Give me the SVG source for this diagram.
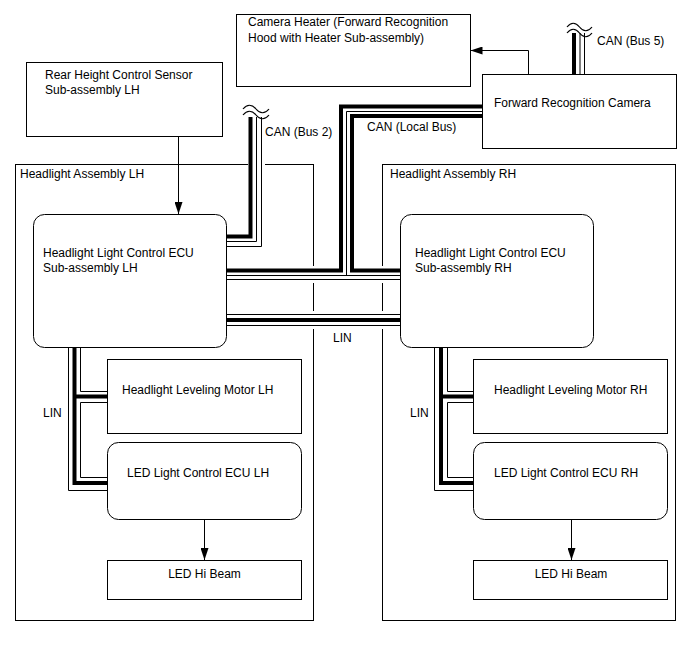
<svg xmlns="http://www.w3.org/2000/svg" width="688" height="658" viewBox="0 0 688 658">
<defs>
<marker id="arr" markerUnits="userSpaceOnUse" markerWidth="13" markerHeight="8" refX="12" refY="4" orient="auto">
<path d="M0,0 L12,4 L0,8 z" fill="#000"/>
</marker>
<style>
text{font-family:"Liberation Sans",Arial,sans-serif;font-size:12px;fill:#000}
.box{fill:#fff;stroke:#000;stroke-width:1}
.frame{fill:none;stroke:#000;stroke-width:1}
.halo{fill:none;stroke:#fff;stroke-width:17;stroke-linejoin:miter}
.thin{fill:none;stroke:#000;stroke-width:1;stroke-linejoin:miter}
.thick{fill:none;stroke:#000;stroke-width:4;stroke-linejoin:miter}
.arrow{fill:none;stroke:#000;stroke-width:1;marker-end:url(#arr)}
.wave{fill:none;stroke:#000;stroke-width:1.2}
</style>
</defs>
<rect width="688" height="658" fill="#fff"/>

<g id="headlight-assembly-lh">
<rect class="frame" x="15.5" y="164.5" width="298" height="456"/>
<text x="20" y="178">Headlight Assembly LH</text>
</g>
<g id="headlight-assembly-rh">
<rect class="frame" x="382.5" y="164.5" width="293" height="456"/>
<text x="390" y="178">Headlight Assembly RH</text>
</g>

<g id="connectors">
<!-- halos -->
<path class="halo" d="M226,241.5 H256.5 V117"/>
<path class="halo" d="M226,274.5 H346.5 V111 H482 M346.5,274.5 H400"/>
<path class="halo" style="stroke-width:18" d="M226,320 H400"/>
<path class="halo" d="M579.5,33 V74"/>
<!-- CAN Bus 2 -->
<path class="thick" d="M226,236.5 H250.5 V117"/>
<path class="thin" d="M226,241.5 H256.5 V117"/>
<path class="thin" d="M226,246.5 H261.5 V117"/>
<path class="wave" d="M243,109 c4,-5 9,-5 13,0 s9,5 13,0"/>
<path class="wave" d="M243,115 c4,-5 9,-5 13,0 s9,5 13,0"/>
<!-- CAN Bus 5 -->
<path class="thick" d="M574,33 V74"/>
<path class="thin" d="M580,33 V74"/>
<path class="thin" d="M584.5,33 V74"/>
<path class="wave" d="M567,27 c4,-5 8.5,-5 12.5,0 s8.5,5 12.5,0"/>
<path class="wave" d="M567,33 c4,-5 8.5,-5 12.5,0 s8.5,5 12.5,0"/>
<!-- CAN Local Bus -->
<path class="thick" d="M226,270.5 H341 V106.5 H482"/>
<path class="thick" d="M400,270.5 H352 V116 H482"/>
<path class="thin" d="M226,275.5 H400 M346.5,275.5 V111.5 H482"/>
<path class="thin" d="M226,279.5 H400"/>
<!-- LIN between ECUs -->
<path class="thin" d="M226,314.5 H400 M226,325.5 H400"/>
<path class="thick" d="M226,320 H400"/>
<!-- LIN left -->
<path class="thin" d="M68.5,347 V490.5 H107"/>
<path class="thick" d="M74.5,347 V483 H107 M74.5,396.5 H107"/>
<path class="thin" d="M80.5,347 V391.5 H107 M107,402.5 H80.5 V477.5 H107"/>
<!-- LIN right -->
<path class="thin" d="M434.5,347 V490.5 H473"/>
<path class="thick" d="M441,347 V483 H473 M441,396.5 H473"/>
<path class="thin" d="M447.5,347 V391.5 H473 M473,402.5 H447.5 V477.5 H473"/>
<!-- arrows -->
<path class="arrow" d="M528.5,74 V50.5 H470.5"/>
<path class="arrow" d="M178.5,136 V214"/>
<path class="arrow" d="M204.5,519 V560"/>
<path class="arrow" d="M571.5,519 V560"/>
<!-- labels -->
<text x="265" y="136">CAN (Bus 2)</text>
<text x="597" y="45">CAN (Bus 5)</text>
<text x="367" y="131">CAN (Local Bus)</text>
<text x="333" y="342">LIN</text>
<text x="43" y="417">LIN</text>
<text x="410" y="417">LIN</text>
</g>

<g id="camera-heater">
<rect class="box" x="236.5" y="14.5" width="234" height="72"/>
<text x="248" y="26">Camera Heater (Forward Recognition</text>
<text x="248" y="42">Hood with Heater Sub-assembly)</text>
</g>
<g id="forward-recognition-camera">
<rect class="box" x="482.5" y="74.5" width="194" height="74"/>
<text x="494" y="107">Forward Recognition Camera</text>
</g>
<g id="rear-height-sensor-lh">
<rect class="box" x="26.5" y="62.5" width="196" height="74"/>
<text x="45" y="79">Rear Height Control Sensor</text>
<text x="45" y="94">Sub-assembly LH</text>
</g>
<g id="headlight-ecu-lh">
<rect class="box" x="33.5" y="214.5" width="193" height="133" rx="11"/>
<text x="43" y="257">Headlight Light Control ECU</text>
<text x="43" y="272">Sub-assembly LH</text>
</g>
<g id="headlight-ecu-rh">
<rect class="box" x="400.5" y="214.5" width="193" height="133" rx="11"/>
<text x="415" y="257">Headlight Light Control ECU</text>
<text x="415" y="272">Sub-assembly RH</text>
</g>
<g id="leveling-motor-lh">
<rect class="box" x="107.5" y="359.5" width="194" height="74"/>
<text x="122" y="394">Headlight Leveling Motor LH</text>
</g>
<g id="leveling-motor-rh">
<rect class="box" x="473.5" y="359.5" width="194" height="74"/>
<text x="494" y="394">Headlight Leveling Motor RH</text>
</g>
<g id="led-ecu-lh">
<rect class="box" x="107.5" y="442.5" width="194" height="77" rx="11"/>
<text x="127" y="477">LED Light Control ECU LH</text>
</g>
<g id="led-ecu-rh">
<rect class="box" x="473.5" y="442.5" width="194" height="77" rx="11"/>
<text x="494" y="477">LED Light Control ECU RH</text>
</g>
<g id="led-hi-beam-lh">
<rect class="box" x="107.5" y="560.5" width="194" height="39"/>
<text x="204.5" y="578" text-anchor="middle">LED Hi Beam</text>
</g>
<g id="led-hi-beam-rh">
<rect class="box" x="473.5" y="560.5" width="194" height="39"/>
<text x="571" y="578" text-anchor="middle">LED Hi Beam</text>
</g>
</svg>
